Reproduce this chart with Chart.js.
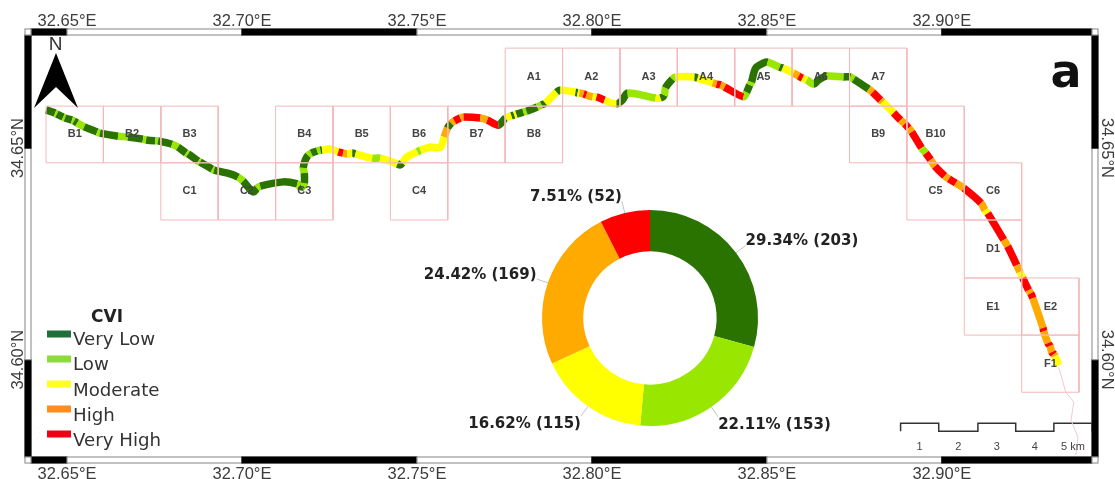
<!DOCTYPE html>
<html>
<head>
<meta charset="utf-8">
<title>CVI</title>
<script src="https://cdn.jsdelivr.net/npm/chart.js@4"></script>
<style>
    html, body { margin: 0; background: #fff; }
    #map { position: absolute; left: 0; top: 0; filter: blur(0.45px); }
    #donut { position: absolute; left: 400px; top: 180px; filter: blur(0.45px); }
</style>
</head>
<body>
<canvas id="map" width="1115" height="479"></canvas>
<canvas id="donut" width="500" height="276"></canvas>
<script>
// CVI classes
const cviLabels = ["Very Low", "Low", "Moderate", "High", "Very High"];
const cviCounts = [203, 153, 115, 169, 52];
const cviPercents = ["29.34%", "22.11%", "16.62%", "24.42%", "7.51%"];
const cviColors = ["#2a7300", "#99e600", "#ffff00", "#ffaa00", "#ff0000"];
const legendColors = ["#1f6f3a", "#8ddb3a", "#ffff20", "#ff8c1e", "#f00014"];

// axis ticks
const lonTicks = [32.65, 32.70, 32.75, 32.80, 32.85, 32.90];
const latTicks = [34.60, 34.65];

// sheet grid
const gridLon = [32.6440, 32.6604, 32.6768, 32.6932, 32.7096, 32.7260, 32.7424,
    32.7588, 32.7752, 32.7916, 32.8080, 32.8244, 32.8408, 32.8572, 32.8736,
    32.8900, 32.9064, 32.9228, 32.9392];
const gridLat = [34.6736, 34.6599, 34.6465, 34.6330, 34.6193, 34.6058, 34.5923];
const cellLabels = ["A1", "A2", "A3", "A4", "A5", "A6", "A7",
    "B1", "B2", "B3", "B4", "B5", "B6", "B7", "B8", "B9", "B10",
    "C1", "C2", "C3", "C4", "C5", "C6", "D1", "E1", "E2", "F1"];
const cellCols = [8, 9, 10, 11, 12, 13, 14,
    0, 1, 2, 4, 5, 6, 7, 8, 14, 15,
    2, 3, 4, 6, 15, 16, 16, 16, 17, 17];
const cellRows = [0, 0, 0, 0, 0, 0, 0,
    1, 1, 1, 1, 1, 1, 1, 1, 1, 1,
    2, 2, 2, 2, 2, 2, 3, 4, 4, 5];

// shoreline, class index is for the stretch starting at that point
const coastLon = [
    32.6440, 32.6466, 32.6471, 32.6489, 32.6494, 32.6514, 32.6520, 32.6529, 32.6549, 32.6586,
    32.6594, 32.6646, 32.6674, 32.6717, 32.6726, 32.6752, 32.6760, 32.6800, 32.6817, 32.6840,
    32.6846, 32.6875, 32.6880, 32.6915, 32.6920, 32.6966, 32.6989, 32.7003, 32.7032, 32.7043,
    32.7052, 32.7118, 32.7158, 32.7164, 32.7172, 32.7178, 32.7178, 32.7175, 32.7181, 32.7189,
    32.7198, 32.7215, 32.7224, 32.7229, 32.7252, 32.7275, 32.7289, 32.7301, 32.7315, 32.7324,
    32.7372, 32.7395, 32.7430, 32.7444, 32.7452, 32.7458, 32.7472, 32.7501, 32.7510, 32.7538,
    32.7567, 32.7578, 32.7587, 32.7598, 32.7607, 32.7624, 32.7633, 32.7681, 32.7701, 32.7733,
    32.7753, 32.7770, 32.7778, 32.7784, 32.7804, 32.7813, 32.7844, 32.7856, 32.7867, 32.7899,
    32.7910, 32.7953, 32.7959, 32.7964, 32.7976, 32.7984, 32.8002, 32.8013, 32.8036, 32.8070,
    32.8087, 32.8102, 32.8182, 32.8196, 32.8207, 32.8210, 32.8230, 32.8239, 32.8293, 32.8302,
    32.8345, 32.8356, 32.8368, 32.8379, 32.8433, 32.8442, 32.8451, 32.8456, 32.8468, 32.8491,
    32.8502, 32.8536, 32.8545, 32.8576, 32.8591, 32.8602, 32.8614, 32.8634, 32.8648, 32.8671,
    32.8719, 32.8739, 32.8748, 32.8791, 32.8802, 32.8825, 32.8831, 32.8862, 32.8882, 32.8894,
    32.8905, 32.8914, 32.8942, 32.8954, 32.8968, 32.8980, 32.9008, 32.9020, 32.9040, 32.9063,
    32.9112, 32.9123, 32.9131, 32.9177, 32.9188, 32.9214, 32.9223, 32.9231, 32.9248, 32.9254,
    32.9260, 32.9289, 32.9291, 32.9303, 32.9309, 32.9314, 32.9320, 32.9323, 32.9334,
];
const coastLat = [
    34.6590, 34.6583, 34.6580, 34.6573, 34.6571, 34.6566, 34.6564, 34.6559, 34.6550, 34.6538,
    34.6535, 34.6528, 34.6526, 34.6521, 34.6519, 34.6517, 34.6517, 34.6509, 34.6502, 34.6488,
    34.6486, 34.6469, 34.6467, 34.6450, 34.6448, 34.6439, 34.6431, 34.6422, 34.6396, 34.6405,
    34.6410, 34.6420, 34.6415, 34.6410, 34.6408, 34.6417, 34.6441, 34.6453, 34.6472, 34.6483,
    34.6488, 34.6493, 34.6495, 34.6495, 34.6498, 34.6491, 34.6488, 34.6486, 34.6488, 34.6486,
    34.6476, 34.6476, 34.6467, 34.6462, 34.6460, 34.6465, 34.6479, 34.6491, 34.6495, 34.6502,
    34.6502, 34.6526, 34.6547, 34.6559, 34.6564, 34.6571, 34.6573, 34.6571, 34.6566, 34.6554,
    34.6571, 34.6576, 34.6578, 34.6580, 34.6585, 34.6587, 34.6597, 34.6602, 34.6606, 34.6632,
    34.6637, 34.6632, 34.6630, 34.6630, 34.6628, 34.6625, 34.6621, 34.6621, 34.6613, 34.6604,
    34.6613, 34.6630, 34.6618, 34.6618, 34.6625, 34.6642, 34.6663, 34.6668, 34.6668, 34.6665,
    34.6654, 34.6651, 34.6649, 34.6644, 34.6621, 34.6632, 34.6649, 34.6656, 34.6689, 34.6701,
    34.6703, 34.6691, 34.6689, 34.6677, 34.6670, 34.6665, 34.6661, 34.6651, 34.6661, 34.6670,
    34.6668, 34.6668, 34.6663, 34.6639, 34.6632, 34.6613, 34.6609, 34.6583, 34.6566, 34.6557,
    34.6547, 34.6538, 34.6500, 34.6488, 34.6472, 34.6457, 34.6434, 34.6427, 34.6417, 34.6405,
    34.6370, 34.6353, 34.6346, 34.6283, 34.6268, 34.6223, 34.6207, 34.6193, 34.6164, 34.6157,
    34.6145, 34.6075, 34.6067, 34.6039, 34.6032, 34.6018, 34.6013, 34.6008, 34.5987,
];
const coastClass = [
    0, 1, 0, 1, 0, 1, 0, 1, 0, 1,
    0, 1, 0, 1, 0, 1, 0, 1, 0, 1,
    0, 1, 0, 1, 0, 0, 1, 0, 0, 1,
    0, 0, 1, 0, 1, 0, 1, 0, 0, 1,
    0, 1, 0, 2, 2, 4, 3, 2, 0, 2,
    1, 2, 2, 0, 0, 2, 2, 1, 2, 2,
    2, 3, 0, 3, 4, 3, 4, 3, 4, 0,
    2, 0, 2, 0, 1, 0, 1, 0, 2, 0,
    2, 0, 2, 3, 4, 3, 2, 4, 2, 0,
    0, 1, 2, 0, 1, 0, 1, 2, 0, 2,
    3, 4, 3, 4, 1, 0, 1, 0, 0, 0,
    1, 0, 2, 3, 4, 2, 1, 0, 0, 1,
    0, 1, 0, 3, 4, 3, 2, 4, 3, 4,
    3, 4, 1, 4, 3, 4, 3, 4, 3, 4,
    3, 2, 4, 3, 4, 3, 2, 4, 3, 4,
    3, 4, 3, 4, 3, 4, 3, 2, 2,
];

// thin stretch south of the surveyed shore
const tailLon = [32.9334, 32.9354, 32.9377, 32.9369, 32.9389, 32.9383];
const tailLat = [34.5982, 34.5923, 34.5900, 34.5857, 34.5817, 34.5774];

// scale bar
const barLon = [32.8882, 32.8991, 32.9103, 32.9211, 32.9320, 32.9429];
const barTop = 34.5850;
const barBottom = 34.5831;
const barLabels = ["1", "2", "3", "4", "5 km"];

const toPoints = (lons, lats) => lons.map((lon, i) => ({ x: lon, y: lats[i] }));

/**
 * One path through all sheets, NaN breaks the line between two cells.
 */
function cellOutlines() {
    const points = [];
    cellLabels.forEach((_, i) => {
        const l = gridLon[cellCols[i]];
        const r = gridLon[cellCols[i] + 1];
        const t = gridLat[cellRows[i]];
        const b = gridLat[cellRows[i] + 1];
        points.push({ x: l, y: t }, { x: r, y: t }, { x: r, y: b }, { x: l, y: b }, { x: l, y: t });
        points.push({ x: NaN, y: NaN });
    });
    return points;
}

function scaleBarPath() {
    const points = [];
    barLon.slice(0, -1).forEach((lon, i) => {
        const up = i % 2 === 0;
        points.push({ x: lon, y: up ? barBottom : barTop }, { x: lon, y: up ? barTop : barBottom });
    });
    points.push({ x: barLon[5], y: barTop }, { x: barLon[5], y: barBottom });
    return points;
}

// checkered neatline around the map
const neatline = {
    id: "neatline",
    beforeDatasetsDraw(chart) {
        const { ctx, chartArea: a, scales } = chart;
        const w = 6;
        const band = (x, y, bw, bh, black) => {
            ctx.fillStyle = black ? "#000" : "#fff";
            ctx.strokeStyle = black ? "#000" : "#999";
            ctx.lineWidth = 1.2;
            ctx.fillRect(x, y, bw, bh);
            ctx.strokeRect(x, y, bw, bh);
        };
        const xs = [a.left, ...lonTicks.map((v) => scales.x.getPixelForValue(v)), a.right];
        xs.slice(0, -1).forEach((x, i) => {
            band(x, a.top - w, xs[i + 1] - x, w, i % 2 === 0);
            band(x, a.bottom, xs[i + 1] - x, w, i % 2 === 0);
        });
        const ys = [a.bottom, ...latTicks.map((v) => scales.y.getPixelForValue(v)), a.top];
        ys.slice(0, -1).forEach((y, i) => {
            band(a.left - w, ys[i + 1], w, y - ys[i + 1], i % 2 === 0);
            band(a.right, ys[i + 1], w, y - ys[i + 1], i % 2 === 0);
        });
        [[a.left - w, a.top - w], [a.right, a.top - w], [a.left - w, a.bottom], [a.right, a.bottom]]
            .forEach(([x, y]) => band(x, y, w, w, false));
    },
};

// sheet names, legend, north arrow and the panel letter
const annotations = {
    id: "annotations",
    afterDatasetsDraw(chart) {
        const { ctx, scales } = chart;
        ctx.save();

        ctx.font = "bold 11px 'Liberation Sans'";
        ctx.fillStyle = "#444";
        ctx.textAlign = "center";
        ctx.textBaseline = "middle";
        cellLabels.forEach((label, i) => {
            const lon = (gridLon[cellCols[i]] + gridLon[cellCols[i] + 1]) / 2;
            const lat = (gridLat[cellRows[i]] + gridLat[cellRows[i] + 1]) / 2;
            ctx.fillText(label, scales.x.getPixelForValue(lon), scales.y.getPixelForValue(lat));
        });

        // scale bar
        ctx.font = "11px 'Liberation Sans'";
        ctx.fillStyle = "#444";
        barLabels.forEach((label, i) => {
            const mid = (scales.x.getPixelForValue(barLon[i]) + scales.x.getPixelForValue(barLon[i + 1])) / 2;
            ctx.fillText(label, mid, 447);
        });

        // legend
        ctx.textAlign = "center";
        ctx.font = "bold 17px 'DejaVu Sans'";
        ctx.fillStyle = "#222";
        ctx.fillText("CVI", 107, 318);
        ctx.textAlign = "left";
        ctx.font = "18.2px 'DejaVu Sans'";
        cviLabels.forEach((label, i) => {
            ctx.fillStyle = legendColors[i];
            ctx.fillRect(47, 330.5 + i * 25, 24, 7);
            ctx.fillStyle = "#333";
            ctx.fillText(label, 73, 340.5 + i * 25.2);
        });

        // north arrow
        ctx.fillStyle = "#000";
        ctx.beginPath();
        ctx.moveTo(56, 53);
        ctx.lineTo(78, 108);
        ctx.lineTo(56, 87);
        ctx.lineTo(34, 108);
        ctx.closePath();
        ctx.fill();
        ctx.textAlign = "center";
        ctx.font = "19px 'Liberation Sans'";
        ctx.fillStyle = "#333";
        ctx.fillText("N", 55.5, 44.5);

        ctx.font = "bold 46px 'DejaVu Sans'";
        ctx.fillStyle = "#111";
        ctx.textBaseline = "alphabetic";
        ctx.fillText("a", 1066, 87);
        ctx.restore();
    },
};

// outside labels of the doughnut, with short leader lines
const sliceLabels = {
    id: "sliceLabels",
    afterDatasetsDraw(chart) {
        const { ctx } = chart;
        ctx.save();
        ctx.font = "bold 15px 'DejaVu Sans'";
        ctx.textBaseline = "middle";
        chart.getDatasetMeta(0).data.forEach((arc, i) => {
            const { x, y, startAngle, endAngle, outerRadius } = arc.getProps(
                ["x", "y", "startAngle", "endAngle", "outerRadius"], true);
            const mid = (startAngle + endAngle) / 2;
            const ox = x + Math.cos(mid) * outerRadius;
            const oy = y + Math.sin(mid) * outerRadius;
            const lx = x + Math.cos(mid) * (outerRadius + 12);
            const ly = y + Math.sin(mid) * (outerRadius + 12);
            ctx.strokeStyle = "#c4c4c4";
            ctx.lineWidth = 1;
            ctx.beginPath();
            ctx.moveTo(ox, oy);
            ctx.lineTo(lx, ly);
            ctx.stroke();
            ctx.fillStyle = "#222";
            ctx.textAlign = lx > x ? "left" : "right";
            ctx.fillText(`${cviPercents[i]} (${cviCounts[i]})`, lx, ly + (ly < y ? -4 : 8));
        });
        ctx.restore();
    },
};

const lonAxis = (position, padding, size) => ({
    type: "linear",
    position,
    min: 32.6397,
    max: 32.9429,
    grid: { display: false, drawTicks: false },
    border: { display: false },
    afterBuildTicks: (scale) => { scale.ticks = lonTicks.map((value) => ({ value })); },
    afterFit: (scale) => { scale.height = size; },
    ticks: {
        autoSkip: false,
        maxRotation: 0,
        padding,
        color: "#3c3c3c",
        font: { family: "'Liberation Sans'", size: 16.5 },
        callback: (v) => `${v.toFixed(2)}°E`,
    },
});

const latAxis = (position, rotation, size, padding) => ({
    type: "linear",
    position,
    min: 34.5770,
    max: 34.6767,
    grid: { display: false, drawTicks: false },
    border: { display: false },
    afterBuildTicks: (scale) => { scale.ticks = latTicks.map((value) => ({ value })); },
    afterFit: (scale) => { scale.width = size; },
    ticks: {
        autoSkip: false,
        minRotation: rotation,
        maxRotation: rotation,
        crossAlign: "center",
        padding,
        color: "#3c3c3c",
        font: { family: "'Liberation Sans'", size: 16.5 },
        callback: (v) => `${v.toFixed(2)}°N`,
    },
});

new Chart(document.getElementById("map"), {
    type: "scatter",
    data: {
        datasets: [
            {
                data: cellOutlines(),
                showLine: true,
                borderColor: "#f2b9bb",
                borderWidth: 1,
                pointRadius: 0,
                spanGaps: false,
            },
            {
                data: toPoints(tailLon, tailLat),
                showLine: true,
                borderColor: "#e6cdd4",
                borderWidth: 1,
                pointRadius: 0,
            },
            {
                data: scaleBarPath(),
                showLine: true,
                borderColor: "#333",
                borderWidth: 1.5,
                pointRadius: 0,
            },
            {
                data: toPoints(coastLon, coastLat),
                showLine: true,
                borderWidth: 7.5,
                tension: 0.3,
                borderCapStyle: "butt",
                borderJoinStyle: "round",
                pointRadius: 0,
                segment: {
                    borderColor: (ctx) => cviColors[coastClass[ctx.p0DataIndex]],
                },
            },
        ],
    },
    options: {
        responsive: false,
        animation: false,
        layout: { padding: 0 },
        plugins: { legend: { display: false }, tooltip: { enabled: false } },
        scales: {
            x: lonAxis("bottom", 8, 22),
            xTop: lonAxis("top", 4, 35),
            y: latAxis("left", 90, 31, -17),
            yRight: latAxis("right", -90, 23, -15.5),
        },
    },
    plugins: [neatline, annotations],
});

new Chart(document.getElementById("donut"), {
    type: "doughnut",
    data: {
        labels: cviLabels,
        datasets: [{ data: cviCounts, backgroundColor: cviColors, borderWidth: 0 }],
    },
    options: {
        responsive: false,
        animation: false,
        cutout: "61.7%",
        layout: { padding: 30 },
        plugins: { legend: { display: false }, tooltip: { enabled: false } },
    },
    plugins: [sliceLabels],
});
</script>
</body>
</html>
